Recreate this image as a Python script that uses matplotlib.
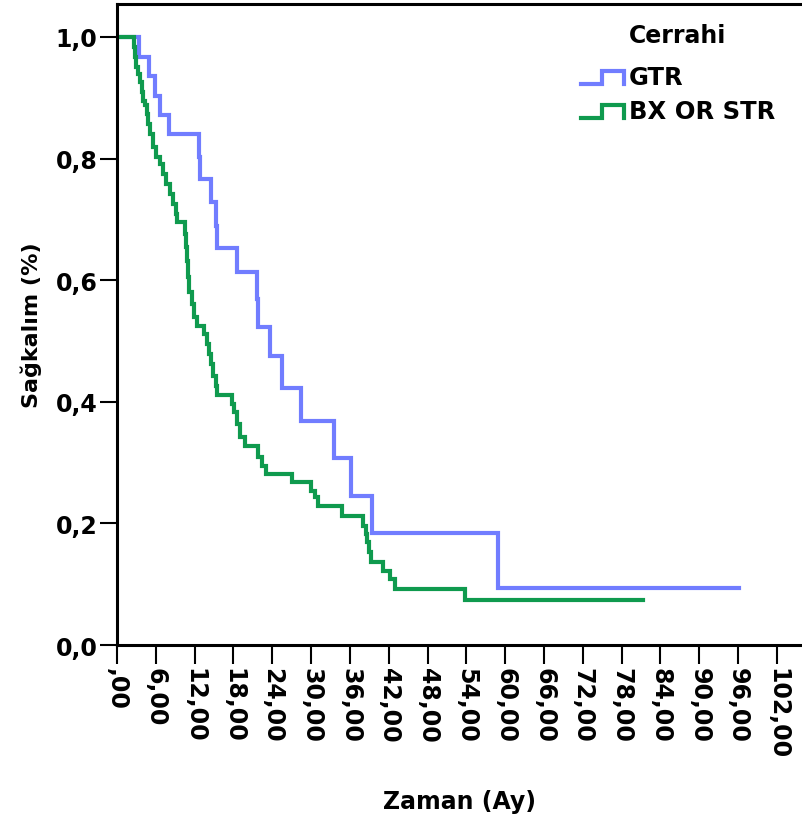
import matplotlib
matplotlib.use('Agg')
import matplotlib.pyplot as plt
from matplotlib.lines import Line2D
from matplotlib.legend_handler import HandlerBase

#values (months, survival proportion)
gtrTime = [0, 3.40, 4.95, 5.87, 6.65, 8.04, 12.67, 12.83, 14.53, 15.30, 15.46, 18.55,
           21.64, 21.79, 23.65, 25.50, 28.44, 33.54, 36.17, 39.41, 58.89, 96.1]
gtrSurv = [1.0, 0.967, 0.936, 0.903, 0.872, 0.840, 0.803, 0.766, 0.729, 0.689, 0.653, 0.613,
           0.569, 0.523, 0.475, 0.423, 0.368, 0.307, 0.245, 0.184, 0.094, 0.094]

bxTime = [0, 2.63, 2.78, 2.94, 3.25, 3.55, 3.86, 4.02, 4.33, 4.64, 4.79, 5.10, 5.56, 6.03,
          6.65, 7.11, 7.57, 8.19, 8.66, 9.12, 9.27, 10.51, 10.66, 10.82, 10.97, 11.13, 11.59,
          11.90, 12.36, 13.45, 13.91, 14.22, 14.53, 14.84, 15.30, 15.46, 17.77, 18.08, 18.55,
          19.01, 19.78, 21.79, 22.41, 23.03, 27.05, 29.98, 30.60, 31.07, 34.78, 38.02, 38.49,
          38.64, 38.95, 39.26, 41.11, 42.19, 42.97, 53.79, 81.3]
bxSurv = [1.0, 0.984, 0.967, 0.951, 0.939, 0.926, 0.910, 0.895, 0.888, 0.873, 0.857, 0.840,
          0.819, 0.803, 0.791, 0.775, 0.758, 0.742, 0.725, 0.709, 0.696, 0.676, 0.655, 0.632,
          0.605, 0.581, 0.561, 0.539, 0.525, 0.512, 0.495, 0.479, 0.462, 0.442, 0.426, 0.411,
          0.396, 0.383, 0.363, 0.342, 0.327, 0.309, 0.294, 0.281, 0.268, 0.253, 0.243, 0.229,
          0.212, 0.196, 0.183, 0.169, 0.153, 0.137, 0.122, 0.109, 0.092, 0.074, 0.074]

groupNames = ['GTR', 'BX OR STR']
groupColors = ['#717dff', '#0f9a4e']

xTicks = list(range(0, 103, 6))
xTickLabels = [',00'] + ['%d,00' % t for t in xTicks[1:]]
yTicks = [0.0, 0.2, 0.4, 0.6, 0.8, 1.0]
yTickLabels = ['0,0', '0,2', '0,4', '0,6', '0,8', '1,0']

plt.rcParams['font.family'] = ['DejaVu Sans']
plt.rcParams['font.weight'] = 'bold'
plt.rcParams['axes.labelweight'] = 'bold'


#legend handle drawn as a little step
class StepHandler(HandlerBase):
    def create_artists(self, legend, orig_handle, xdescent, ydescent, width, height, fontsize, trans):
        x0 = -xdescent
        y0 = -ydescent
        xs = [x0, x0 + 0.48*width, x0 + 0.48*width, x0 + width, x0 + width]
        ys = [y0, y0, y0 + 0.8*height, y0 + 0.8*height, y0]
        ln = Line2D(xs, ys, color=orig_handle.get_color(), lw=orig_handle.get_linewidth(),
                    solid_joinstyle='miter', transform=trans)
        return [ln]


fig = plt.figure(figsize=(8.03, 8.2), dpi=100)
ax = fig.add_axes([117/803, 1-646/820, 685/803, 641/820])

lines = []
for t, s, name, col in zip([gtrTime, bxTime], [gtrSurv, bxSurv], groupNames, groupColors):
    ln, = ax.step(t, s, where='post', color=col, lw=3, label=name, solid_joinstyle='miter')
    lines.append(ln)

ax.set_xlim(0, 685/6.47)
ax.set_ylim(0, 641/608)

ax.set_xticks(xTicks)
ax.set_xticklabels(xTickLabels, rotation=270, fontsize=17, va='top', ha='center')
ax.set_yticks(yTicks)
ax.set_yticklabels(yTickLabels, fontsize=17)
ax.tick_params(axis='x', length=14, width=1.5, pad=2)
ax.tick_params(axis='y', length=12, width=1.5, pad=2)

for side in ['left', 'bottom', 'top']:
    ax.spines[side].set_linewidth(2.2)
ax.spines['right'].set_visible(False)

ax.set_xlabel('Zaman (Ay)', fontsize=17, labelpad=22)
ax.set_ylabel('Sağkalım (%)', fontsize=16, labelpad=10)

leg = ax.legend(lines, groupNames, title='Cerrahi', frameon=False, fontsize=17.5,
                title_fontproperties={'size': 17, 'weight': 'bold'},
                handler_map={Line2D: StepHandler()}, handlelength=1.75, handletextpad=0.2,
                labelspacing=0.42, loc='upper right', bbox_to_anchor=(787/803, 1-12/820),
                bbox_transform=fig.transFigure, borderpad=0)
leg._legend_box.sep = 13

fig.savefig('out.png', dpi=100)
